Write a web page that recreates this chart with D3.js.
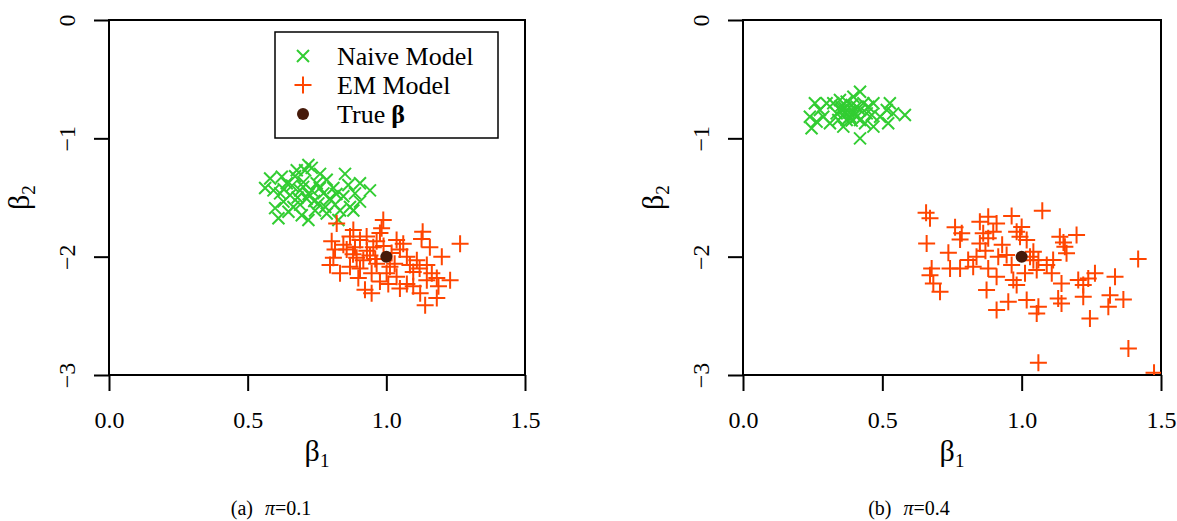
<!DOCTYPE html>
<html>
<head>
<meta charset="utf-8">
<script src="https://cdn.jsdelivr.net/npm/d3@7"></script>
<style>
  body { margin: 0; background: #fff; }
  svg text { font-family: "Liberation Serif", "Times New Roman", serif; fill: #000; }
</style>
</head>
<body>
<div id="chart"></div>
<script>
// estimates (beta1, beta2)
const naiveA = [
  [0.719,-1.226],[0.731,-1.25],[0.707,-1.27],[0.851,-1.30],[0.581,-1.34],[0.563,-1.42],
  [0.593,-1.44],[0.641,-1.38],[0.671,-1.32],[0.689,-1.44],[0.749,-1.38],[0.773,-1.465],
  [0.809,-1.42],[0.863,-1.395],[0.941,-1.44],[0.905,-1.535],[0.869,-1.58],[0.833,-1.61],
  [0.827,-1.69],[0.785,-1.635],[0.719,-1.69],[0.695,-1.65],[0.611,-1.675],[0.599,-1.59],
  [0.629,-1.535],[0.665,-1.58],[0.713,-1.51],[0.755,-1.55],[0.797,-1.51],[0.845,-1.49],
  [0.887,-1.465],[0.617,-1.465],[0.653,-1.48],[0.731,-1.44],[0.701,-1.37],[0.785,-1.35],
  [0.761,-1.30],[0.677,-1.27],[0.623,-1.325],[0.905,-1.38],[0.881,-1.61],[0.743,-1.61],
  [0.647,-1.62],[0.815,-1.56],[0.689,-1.56],[0.66,-1.40],[0.72,-1.47],[0.76,-1.42],
  [0.68,-1.50],[0.74,-1.53],[0.82,-1.47],[0.70,-1.41],[0.63,-1.43],[0.78,-1.58]
]
const emA = [
  [0.989,-1.69],[0.983,-1.76],[1.131,-1.79],[1.127,-1.85],[1.266,-1.89],[1.157,-1.92],
  [1.2,-2.0],[1.037,-1.86],[1.049,-1.94],[0.803,-1.87],[0.821,-1.72],[0.881,-1.775],
  [0.905,-1.86],[0.965,-1.87],[0.857,-1.94],[0.797,-2.07],[0.809,-2.01],[0.833,-2.14],
  [0.899,-2.18],[0.905,-2.10],[0.947,-2.31],[0.923,-2.28],[0.977,-2.21],[1.037,-2.17],
  [1.049,-2.27],[1.097,-2.13],[1.110,-2.03],[1.146,-2.07],[1.164,-2.14],[1.23,-2.20],
  [1.182,-2.18],[1.188,-2.25],[1.182,-2.35],[1.140,-2.41],[1.122,-2.31],[1.074,-2.23],
  [1.001,-2.14],[1.013,-2.085],[0.965,-2.06],[0.941,-1.99],[0.953,-1.92],[0.929,-1.83],
  [0.869,-1.83],[0.845,-1.90],[0.893,-2.01],[0.869,-2.085],[0.815,-1.94],[1.074,-2.0],
  [1.085,-2.07],[1.061,-1.89],[1.019,-1.97],[1.007,-2.23],[1.097,-2.25],[1.146,-2.20],
  [0.977,-1.80],[0.887,-1.92],[0.917,-2.03],[0.947,-2.14],[0.93,-1.95],[0.96,-2.02],
  [1.03,-2.06],[0.88,-1.98],[1.12,-2.10],[0.99,-1.91]
]
const naiveB = [
  [0.258,-0.704],[0.240,-0.817],[0.246,-0.915],[0.276,-0.761],[0.300,-0.704],[0.312,-0.873],
  [0.336,-0.789],[0.348,-0.676],[0.366,-0.746],[0.360,-0.901],[0.384,-0.817],[0.396,-0.648],
  [0.420,-0.606],[0.408,-0.733],[0.420,-0.845],[0.420,-1.0],[0.444,-0.789],[0.468,-0.704],
  [0.468,-0.901],[0.492,-0.817],[0.527,-0.704],[0.539,-0.789],[0.521,-0.873],[0.581,-0.803],
  [0.324,-0.704],[0.390,-0.718],[0.372,-0.845],[0.342,-0.845],[0.396,-0.775],[0.432,-0.704],
  [0.450,-0.733],[0.288,-0.817],[0.264,-0.859],[0.354,-0.761],[0.408,-0.817],[0.438,-0.873],
  [0.372,-0.690],[0.516,-0.761],[0.462,-0.803],[0.38,-0.78],[0.40,-0.80],[0.36,-0.80],
  [0.42,-0.76],[0.39,-0.85],[0.35,-0.73]
]
const emB = [
  [0.657,-1.629],[0.671,-1.676],[1.074,-1.612],[0.964,-1.657],[0.761,-1.752],[0.785,-1.803],
  [0.779,-1.854],[0.659,-1.888],[0.737,-1.967],[0.677,-2.099],[0.671,-2.156],[0.683,-2.226],
  [0.707,-2.297],[0.743,-2.099],[0.779,-2.099],[0.808,-2.029],[0.826,-2.085],[0.850,-1.705],
  [0.880,-1.663],[0.910,-1.719],[0.862,-1.803],[0.850,-1.888],[0.880,-1.845],[0.898,-1.789],
  [0.838,-2.0],[0.880,-2.099],[0.910,-2.170],[0.916,-2.0],[0.946,-1.986],[0.964,-2.071],
  [0.970,-2.198],[0.982,-1.789],[0.994,-1.831],[1.018,-1.860],[1.042,-1.959],[1.060,-2.029],
  [1.054,-2.113],[1.113,-2.029],[1.108,-2.141],[1.137,-1.831],[1.155,-1.916],[1.161,-1.972],
  [1.197,-1.817],[1.143,-2.226],[1.203,-2.198],[1.239,-2.184],[1.263,-2.141],[1.335,-2.170],
  [1.418,-2.020],[1.317,-2.325],[1.365,-2.361],[1.311,-2.423],[1.245,-2.522],[1.221,-2.339],
  [1.143,-2.395],[1.131,-2.353],[1.060,-2.423],[1.054,-2.480],[1.018,-2.367],[0.952,-2.381],
  [0.910,-2.451],[0.874,-2.282],[0.982,-2.240],[1.383,-2.775],[1.060,-2.897],[1.475,-2.981],
  [1.090,-2.071],[1.221,-2.240],[1.042,-2.03],[1.012,-2.141],[0.93,-1.90],[1.00,-1.75],
  [1.15,-1.88],[0.87,-1.95],[1.03,-2.00]
]
const trueBeta = [[1.0, -2.0]]

const xTicks = [0, 0.5, 1.0, 1.5]
const yTicks = [0, -1, -2, -3]
const legendLabels = ['Naive Model', 'EM Model', 'True']
const captions = ['(a)', '(b)']
const piValues = ['0.1', '0.4']

const green = '#32cd32'
const orange = '#ff4500'
const brown = '#461a0a'

const width = 1177
const height = 521

const svg = d3.select('#chart')
  .append('svg')
  .attr('width', width)
  .attr('height', height)

svg.append('rect')
  .attr('width', width)
  .attr('height', height)
  .attr('fill', '#fff')

const crossX = 'M-6,-6L6,6M-6,6L6,-6'
const plus = 'M-8.5,0L8.5,0M0,-8.5L0,8.5'

const panels = [
  { left: 109, right: 525, naive: naiveA, em: emA, cap: 0, capX: 271, legend: true },
  { left: 743, right: 1161, naive: naiveB, em: emB, cap: 1, capX: 909, legend: false }
]

const plotTop = 20
const plotBottom = 375

panels.forEach((p, i) => {
  const x = d3.scaleLinear().domain([0, 1.5]).range([p.left, p.right])
  const y = d3.scaleLinear().domain([-3, 0]).range([plotBottom, plotTop])
  const g = svg.append('g')

  g.append('clipPath')
    .attr('id', 'clip' + i)
    .append('rect')
      .attr('x', p.left)
      .attr('y', plotTop)
      .attr('width', p.right - p.left)
      .attr('height', plotBottom - plotTop)

  // axes (R style: ticks outside, labels parallel to axis)
  const xAxis = g.append('g')
    .attr('transform', `translate(0,${plotBottom})`)
    .call(d3.axisBottom(x).tickValues(xTicks).tickFormat(d3.format('.1f')).tickSize(16).tickSizeOuter(0))
  xAxis.select('.domain').remove()
  xAxis.selectAll('line').attr('stroke', '#000').attr('stroke-width', 2)
  xAxis.selectAll('text')
    .attr('y', 53)
    .attr('dy', null)
    .attr('font-size', 24)

  const yAxis = g.append('g')
    .attr('transform', `translate(${p.left},0)`)
    .call(d3.axisLeft(y).tickValues(yTicks).tickFormat(d3.format('d')).tickSize(15).tickSizeOuter(0))
  yAxis.select('.domain').remove()
  yAxis.selectAll('line').attr('stroke', '#000').attr('stroke-width', 2)
  yAxis.selectAll('text')
    .attr('x', null)
    .attr('dy', null)
    .attr('transform', 'translate(-34,0) rotate(-90)')
    .attr('text-anchor', 'middle')
    .attr('font-size', 24)

  g.append('rect')
    .attr('x', p.left)
    .attr('y', plotTop)
    .attr('width', p.right - p.left)
    .attr('height', plotBottom - plotTop)
    .attr('fill', 'none')
    .attr('stroke', '#000')
    .attr('stroke-width', 2)

  const pts = g.append('g').attr('clip-path', `url(#clip${i})`)

  pts.selectAll('path.naive')
    .data(p.naive)
    .enter()
    .append('path')
      .attr('class', 'naive')
      .attr('d', crossX)
      .attr('transform', d => `translate(${x(d[0])},${y(d[1])})`)
      .attr('stroke', green)
      .attr('stroke-width', 2)
      .attr('fill', 'none')

  pts.selectAll('path.em')
    .data(p.em)
    .enter()
    .append('path')
      .attr('class', 'em')
      .attr('d', plus)
      .attr('transform', d => `translate(${x(d[0])},${y(d[1])})`)
      .attr('stroke', orange)
      .attr('stroke-width', 2)
      .attr('fill', 'none')

  pts.selectAll('circle')
    .data(trueBeta)
    .enter()
    .append('circle')
      .attr('cx', d => x(d[0]))
      .attr('cy', d => y(d[1]))
      .attr('r', 6)
      .attr('fill', brown)

  // axis titles
  const mid = (p.left + p.right) / 2
  const xt = g.append('text')
    .attr('x', mid)
    .attr('y', 461)
    .attr('text-anchor', 'middle')
    .attr('font-size', 30)
  xt.append('tspan').text('β')
  xt.append('tspan').attr('font-size', 19).attr('dy', 6).text('1')

  const yt = g.append('text')
    .attr('transform', `translate(${p.left - 80},${(plotTop + plotBottom) / 2}) rotate(-90)`)
    .attr('text-anchor', 'middle')
    .attr('font-size', 30)
  yt.append('tspan').text('β')
  yt.append('tspan').attr('font-size', 19).attr('dy', 6).text('2')

  // caption
  const cap = g.append('text')
    .attr('x', p.capX)
    .attr('y', 515)
    .attr('text-anchor', 'middle')
    .attr('font-size', 20)
  cap.append('tspan').text(captions[p.cap])
  cap.append('tspan').attr('dx', 12).attr('font-style', 'italic').text('π')
  cap.append('tspan').text('=' + piValues[p.cap])

  if (p.legend) {
    const lg = g.append('g')
    lg.append('rect')
      .attr('x', 275)
      .attr('y', 32)
      .attr('width', 223)
      .attr('height', 106)
      .attr('fill', '#fff')
      .attr('stroke', '#000')
      .attr('stroke-width', 1.5)

    const rowY = [56, 85, 114]
    lg.append('path')
      .attr('d', crossX)
      .attr('transform', `translate(303,${rowY[0]})`)
      .attr('stroke', green).attr('stroke-width', 2).attr('fill', 'none')
    lg.append('path')
      .attr('d', plus)
      .attr('transform', `translate(303,${rowY[1]})`)
      .attr('stroke', orange).attr('stroke-width', 2).attr('fill', 'none')
    lg.append('circle')
      .attr('cx', 303).attr('cy', rowY[2]).attr('r', 6).attr('fill', brown)

    legendLabels.forEach((t, k) => {
      const tx = lg.append('text')
        .attr('x', 337)
        .attr('y', rowY[k] + 9)
        .attr('font-size', 26)
        .text(t)
      if (k === 2) tx.append('tspan').attr('dx', 6).attr('font-weight', 'bold').text('β')
    })
  }
})
</script>
</body>
</html>
